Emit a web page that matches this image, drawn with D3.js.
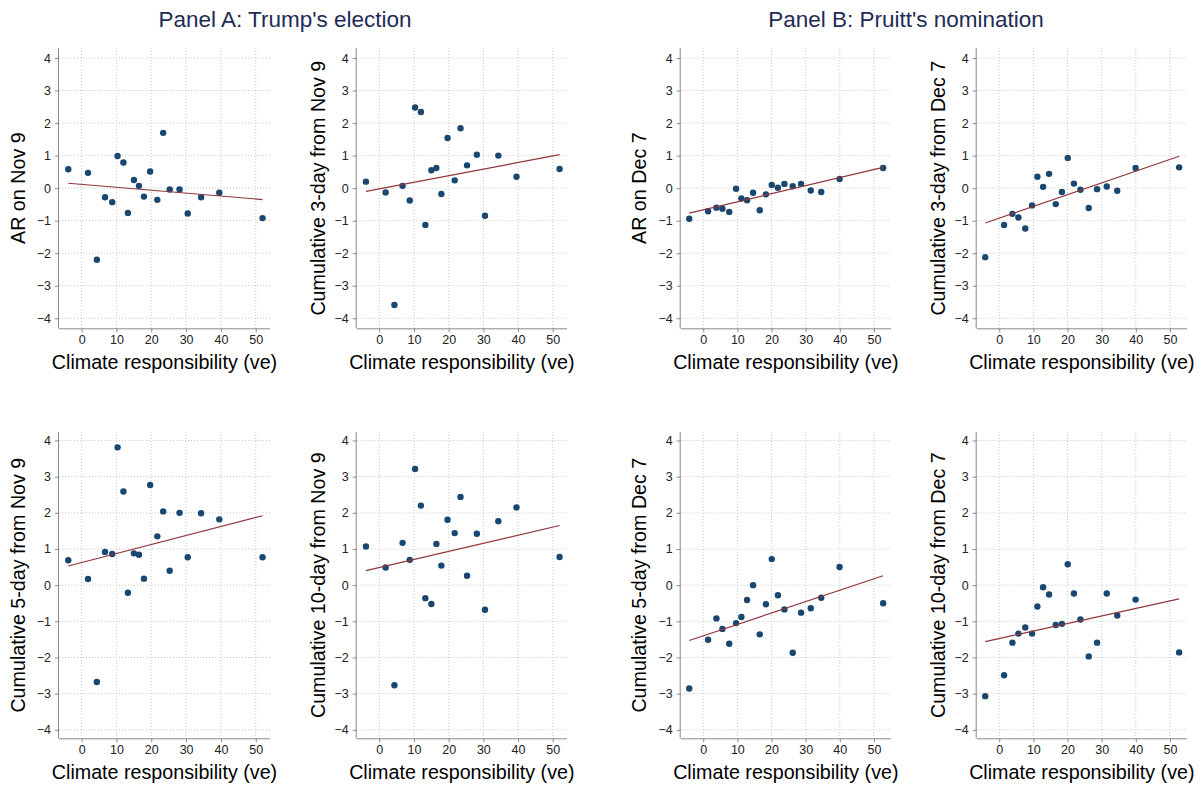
<!DOCTYPE html>
<html>
<head>
<meta charset="utf-8">
<script src="https://cdn.jsdelivr.net/npm/d3@7"></script>
<style>
  body { margin: 0; background: #fff; }
  svg { display: block; font-family: Arial, "Liberation Sans", sans-serif; }
  .grid line { stroke: #c8c8c8; stroke-dasharray: 1,2; }
  .axis path, .axis line { stroke: #8a8a8a; }
  .axis text { fill: #222; font-size: 12.5px; }
</style>
</head>
<body>
<svg id="chart"></svg>
<script>
// climate responsibility of each firm (x)
const xA = [-3.84, 1.83, 4.37, 6.72, 8.78, 10.32, 12.0, 13.29, 15.02, 16.46, 17.9, 19.68, 21.74, 23.42, 25.29, 28.12, 30.47, 34.31, 39.54, 51.96];
const xB = [-4.10, 1.42, 3.86, 5.62, 7.62, 9.62, 11.18, 12.84, 14.6, 16.55, 18.36, 20.07, 21.88, 23.78, 26.22, 28.66, 31.5, 34.57, 39.94, 52.7];

// abnormal returns, Panel A (Trump's election)
const arNov9    = [0.58, 0.47, -2.20, -0.28, -0.43, 0.99, 0.79, -0.76, 0.25, 0.07, -0.26, 0.51, -0.36, 1.70, -0.04, -0.04, -0.78, -0.28, -0.14, -0.92];
const cum3Nov9  = [0.20, -0.13, -3.59, 0.07, -0.38, 2.48, 2.34, -1.13, 0.55, 0.62, -0.18, 1.54, 0.24, 1.84, 0.70, 1.03, -0.85, 1.00, 0.35, 0.59];
const cum5Nov9  = [0.69, 0.17, -2.68, 0.92, 0.86, 3.81, 2.59, -0.21, 0.88, 0.84, 0.18, 2.77, 1.35, 2.04, 0.40, 2.00, 0.77, 1.99, 1.82, 0.77];
const cum10Nov9 = [1.07, 0.49, -2.77, 1.17, 0.70, 3.21, 2.20, -0.36, -0.52, 1.14, 0.54, 1.81, 1.44, 2.44, 0.26, 1.42, -0.68, 1.77, 2.15, 0.78];

// abnormal returns, Panel B (Pruitt's nomination)
const arDec7    = [-0.94, -0.71, -0.60, -0.63, -0.73, -0.02, -0.32, -0.37, -0.14, -0.68, -0.19, 0.10, 0.01, 0.13, 0.06, 0.13, -0.07, -0.12, 0.28, 0.62];
const cum3Dec7  = [-2.12, -1.13, -0.79, -0.90, -1.24, -0.53, 0.35, 0.04, 0.44, -0.49, -0.12, 0.93, 0.14, -0.05, -0.61, -0.03, 0.05, -0.08, 0.62, 0.64];
const cum5Dec7  = [-2.86, -1.51, -0.92, -1.21, -1.62, -1.05, -0.88, -0.41, 0.00, -1.36, -0.53, 0.72, -0.28, -0.67, -1.87, -0.76, -0.64, -0.35, 0.50, -0.50];
const cum10Dec7 = [-3.07, -2.49, -1.59, -1.34, -1.17, -1.34, -0.59, -0.06, -0.26, -1.10, -1.07, 0.58, -0.23, -0.95, -1.97, -1.59, -0.23, -0.84, -0.40, -1.86];

// fitted-line values at the smallest and largest x
const fitStart = [0.15, -0.10, -0.77, -1.07, 0.53, 0.40, -1.53, -1.56];
const fitEnd   = [-0.35, 1.03, 0.64, 0.98, 1.92, 1.65, 0.26, -0.38];

const xTicks = [0, 10, 20, 30, 40, 50];
const yTicks = [-4, -3, -2, -1, 0, 1, 2, 3, 4];
const xLabel = "Climate responsibility (ve)";
const panelTitles = ["Panel A: Trump's election", "Panel B: Pruitt's nomination"];

const panels = [
  { x: xA, y: arNov9,    label: "AR on Nov 9",                  col: 0, row: 0 },
  { x: xA, y: cum3Nov9,  label: "Cumulative 3-day from Nov 9",  col: 1, row: 0 },
  { x: xB, y: arDec7,    label: "AR on Dec 7",                  col: 2, row: 0 },
  { x: xB, y: cum3Dec7,  label: "Cumulative 3-day from Dec 7",  col: 3, row: 0 },
  { x: xA, y: cum5Nov9,  label: "Cumulative 5-day from Nov 9",  col: 0, row: 1 },
  { x: xA, y: cum10Nov9, label: "Cumulative 10-day from Nov 9", col: 1, row: 1 },
  { x: xB, y: cum5Dec7,  label: "Cumulative 5-day from Dec 7",  col: 2, row: 1 },
  { x: xB, y: cum10Dec7, label: "Cumulative 10-day from Dec 7", col: 3, row: 1 }
];

const W = 1203, H = 785;
const svg = d3.select("#chart").attr("width", W).attr("height", H);

// plot boxes (left edge of y axis, right edge of plot region)
const colBox = [
  { left: 59,    right: 270,  dom: [-6.5, 54.1] },
  { left: 356.7, right: 567,  dom: [-6.5, 54.1] },
  { left: 680.7, right: 891,  dom: [-6.6, 55.0] },
  { left: 976.7, right: 1187, dom: [-6.6, 55.0] }
];
const rowBox = [
  { top: 48,  bottom: 328.3, pad: 10 },
  { top: 432, bottom: 738.3, pad: 8.5 }
];
const labelX = [18, 318, 639, 938];

// titles
svg.append("text").attr("x", 285).attr("y", 27).attr("text-anchor", "middle")
  .attr("font-size", 22.5).attr("fill", "#1e2b55").text(panelTitles[0]);
svg.append("text").attr("x", 906).attr("y", 27).attr("text-anchor", "middle")
  .attr("font-size", 22.5).attr("fill", "#1e2b55").text(panelTitles[1]);

panels.forEach((p, k) => {
  const cb = colBox[p.col], rb = rowBox[p.row];
  const x = d3.scaleLinear().domain(cb.dom).range([cb.left, cb.right]);
  const y = d3.scaleLinear().domain([-4, 4]).range([rb.bottom - rb.pad, rb.top + rb.pad]);

  const g = svg.append("g");

  // grid
  const grid = g.append("g").attr("class", "grid");
  grid.selectAll(".gx").data(xTicks).join("line")
    .attr("x1", d => x(d)).attr("x2", d => x(d))
    .attr("y1", rb.top).attr("y2", rb.bottom);
  grid.selectAll(".gy").data(yTicks).join("line")
    .attr("x1", cb.left).attr("x2", cb.right)
    .attr("y1", d => y(d)).attr("y2", d => y(d));

  // axes
  const xAxis = g.append("g").attr("class", "axis")
    .attr("transform", `translate(0,${rb.bottom})`)
    .call(d3.axisBottom(x).tickValues(xTicks).tickSize(4).tickPadding(3).tickSizeOuter(0));
  xAxis.select(".domain").attr("d", `M${cb.left},0.5H${cb.right}`);

  const yAxis = g.append("g").attr("class", "axis")
    .attr("transform", `translate(${cb.left},0)`)
    .call(d3.axisLeft(y).tickValues(yTicks).tickSize(4).tickPadding(4).tickSizeOuter(0));
  yAxis.select(".domain").attr("d", `M-0.5,${rb.top}V${rb.bottom}`);

  // points
  g.append("g").selectAll("circle")
    .data(d3.range(p.x.length))
    .join("circle")
      .attr("cx", i => x(p.x[i]))
      .attr("cy", i => y(p.y[i]))
      .attr("r", 3.2)
      .attr("fill", "#1a476f");

  // fitted line over the range of x
  const ext = d3.extent(p.x);
  g.append("line")
    .attr("x1", x(ext[0])).attr("y1", y(fitStart[k]))
    .attr("x2", x(ext[1])).attr("y2", y(fitEnd[k]))
    .attr("stroke", "#90353b").attr("stroke-width", 1.2);

  // labels
  g.append("text")
    .attr("transform", `translate(${labelX[p.col] + 6.5},${(rb.top + rb.bottom) / 2}) rotate(-90)`)
    .attr("text-anchor", "middle").attr("font-size", 19.7).attr("fill", "#000")
    .text(p.label);
  g.append("text")
    .attr("x", (cb.left + cb.right) / 2).attr("y", rb.bottom + 41)
    .attr("text-anchor", "middle").attr("font-size", 19.7).attr("fill", "#000")
    .text(xLabel);
});
</script>
</body>
</html>
